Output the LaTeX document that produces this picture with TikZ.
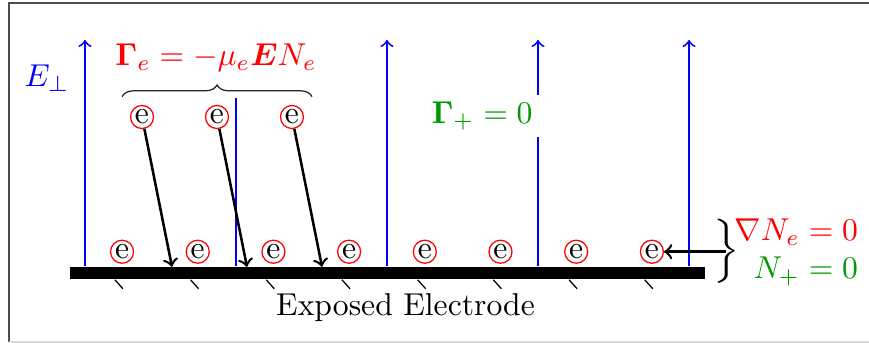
\documentclass[tikz,border=0pt]{standalone}
\usepackage{amsmath}
\usetikzlibrary{positioning,decorations.pathreplacing}

\begin{document}
\begin{tikzpicture}[node distance=0.571cm,
        elec/.style={draw=red, circle, inner sep=0pt, minimum size=0.256cm},
        field/.style={->, blue, semithick},
        drift/.style={->, thick}]
        \useasboundingbox (0,0) rectangle (9.656,3.811);
        \draw[black!70] (9.7,3.778) -- (0.1,3.778) -- (0.1,0.011);
        \draw[black!15] (0.1,0.011) -- (9.7,0.011);

        \node[fill=black, minimum width=7.055cm, minimum height=0.137cm, inner sep=0pt] (bar) at (4.306,0.778) {};
        \node[below=0.03cm of bar, xshift=0.2cm] (label) {Exposed Electrode};

        % field lines
        \coordinate (f1) at (0.944,3.367);
        \coordinate (f2) at (2.622,2.722);
        \coordinate (f3) at (4.3,3.367);
        \coordinate (f4) at (5.978,3.367);
        \coordinate (f5) at (7.656,3.367);
        \draw[field] (f1 |- bar.north) -- (f1);
        \draw[blue, semithick] (f2 |- bar.north) -- (f2);
        \draw[field] (f3 |- bar.north) -- (f3);
        \draw[field] (f4 |- bar.north) -- (f4);
        \draw[field] (f5 |- bar.north) -- (f5);
        \node[blue] (eperp) at (0.522,2.944) {$E_\perp$};

        % electrons on the surface
        \node[elec] (b1) at (1.356,1.014) {e};
        \node[elec, right=of b1] (b2) {e};
        \node[elec, right=of b2] (b3) {e};
        \node[elec, right=of b3] (b4) {e};
        \node[elec, right=of b4] (b5) {e};
        \node[elec, right=of b5] (b6) {e};
        \node[elec, right=of b6] (b7) {e};
        \node[elec, right=of b7] (b8) {e};
        \draw (bar.south -| b1) ++(-0.08,0) -- ++(0.09,-0.1);
        \draw (bar.south -| b2) ++(-0.08,0) -- ++(0.09,-0.1);
        \draw (bar.south -| b3) ++(-0.08,0) -- ++(0.09,-0.1);
        \draw (bar.south -| b4) ++(-0.08,0) -- ++(0.09,-0.1);
        \draw (bar.south -| b5) ++(-0.08,0) -- ++(0.09,-0.1);
        \draw (bar.south -| b6) ++(-0.08,0) -- ++(0.09,-0.1);
        \draw (bar.south -| b7) ++(-0.08,0) -- ++(0.09,-0.1);
        \draw (bar.south -| b8) ++(-0.08,0) -- ++(0.09,-0.1);

        % incoming electrons
        \node[elec] (t1) at (1.578,2.511) {e};
        \node[elec, right=0.563cm of t1] (t2) {e};
        \node[elec, right=0.563cm of t2] (t3) {e};
        \coordinate (h1) at (1.911,0.847);
        \coordinate (h2) at (2.744,0.847);
        \coordinate (h3) at (3.578,0.847);
        \draw[drift] (t1) -- (h1);
        \draw[drift] (t2) -- (h2);
        \draw[drift] (t3) -- (h3);
        \draw[black!85, decorate, decoration={brace, amplitude=3.7pt}] (1.356,2.737) -- (3.467,2.737);
        \node[red] (flux) at (2.4,3.167) {$\boldsymbol{\Gamma}_e = -\mu_e \boldsymbol{E} N_e$};

        \node[fill=white, inner ysep=2pt, text=green!60!black] (fluxp) at (5.356,2.522) {$\boldsymbol{\Gamma}_+ = 0$};

        % boundary conditions
        \node[inner sep=0pt] (brc) at (8.072,1.014) {\scalebox{1.25}[1.13]{$\Big\}$}};
        \node[inner sep=0pt, right=-0.07cm of brc] (bc) {$\begin{array}{@{}r@{}}\color{red}\nabla N_e = 0\\ \color{green!60!black}N_+ = 0\end{array}$};
        \draw[drift] (brc.center) -- (b8);
    \end{tikzpicture}
\end{document}
